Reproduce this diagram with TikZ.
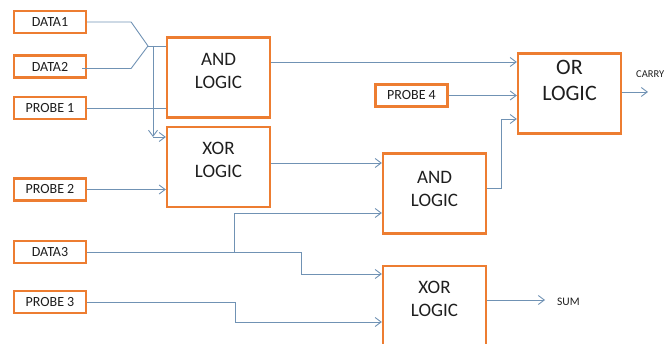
\documentclass[tikz,border=0pt]{standalone}
\usepackage{fontspec}
\setmainfont{Carlito}
\usepackage{tikz}
\usetikzlibrary{arrows.meta}
\definecolor{boxorange}{RGB}{237,125,49}
\definecolor{wireblue}{RGB}{112,146,180}
\definecolor{txt}{RGB}{30,30,30}

\begin{document}
\begin{tikzpicture}[x=1pt, y=-1pt,
   inp/.style = {draw=boxorange, line width=2.2pt, fill=white,
                 minimum width=72pt, minimum height=22pt, inner sep=0pt,
                 text=txt, font=\fontsize{14}{14}\selectfont},
  gate/.style = {draw=boxorange, line width=2.2pt,
                 minimum width=103pt, minimum height=80pt, inner sep=0pt},
  gtxt/.style = {align=center, text=txt, yshift=7pt,
                 font=\fontsize{19}{23}\selectfont},
  otxt/.style = {gtxt, yshift=6pt, font=\fontsize{22}{26}\selectfont},
  wire/.style = {draw=wireblue, line width=0.9pt},
   arr/.style = {wire, -{Straight Barb[length=6pt, width=9pt]}},
  outl/.style = {anchor=west, text=txt, inner sep=0pt}
                    ]
\useasboundingbox (0,0) rectangle (670,344);

\node (d1) [inp] at (50,22)    {DATA1};
\node (d2) [inp] at (50,66.5)  {DATA2};
\node (p1) [inp] at (50,108)   {PROBE 1};
\node (p2) [inp] at (50,189.5) {PROBE 2};
\node (d3) [inp] at (50,252)   {DATA3};
\node (p3) [inp] at (50,302)   {PROBE 3};
\node (p4) [inp] at (411.5,95.5) {PROBE 4};

\node (and1) [gate, label={[gtxt]center:AND\\LOGIC}] at (218.5,77.5) {};
\node (xor1) [gate, label={[gtxt]center:XOR\\LOGIC}] at (218.5,167)  {};
\node (and2) [gate, label={[gtxt,yshift=-2pt]center:AND\\LOGIC}] at (434.5,193.5) {};
\node (xor2) [gate, label={[gtxt]center:XOR\\LOGIC}] at (434.5,306)  {};
\node (or)   [gate, label={[otxt]center:OR\\LOGIC}]  at (569.5,93.5) {};

\node (carry) [outl, font=\fontsize{10.5}{10.5}\selectfont] at (636,74) {CARRY};
\node (sum)   [outl, font=\fontsize{11.5}{11.5}\selectfont] at (557,302) {SUM};

\coordinate (mrg)  at (148,46);
\coordinate (tap)  at (153,46);
\coordinate (drop) at (153,137);
\coordinate (br)   at (234,252);
\coordinate (cout) at (648,92);
\coordinate (sout) at (545,300);

\draw[wire] (d1.east) -- ++(44,0) -- (mrg);
\draw[wire] ([xshift=-5pt,yshift=-2pt]d2.east) -- ++(49,0) -- (mrg);
\draw[wire] (mrg) -- (mrg -| and1.west);
\draw[arr]  (tap) -- (drop);
\draw[arr]  (drop) -- (drop -| xor1.west);
\draw[wire] (p1.east) -- (p1.east -| and1.west);
\draw[arr]  (p2.east) -- (p2.east -| xor1.west);

\draw[arr] ([yshift=15.5pt]and1.east) -- ([yshift=15.5pt]and1.east -| or.west);
\draw[arr] (p4.east) -- (p4.east -| or.west);
\draw[arr] ([yshift=4pt]xor1.east) -- ([yshift=4pt]xor1.east -| and2.west);
\draw[arr] ([yshift=5.5pt]and2.east) -- ++(14,0) |- ([yshift=-25.5pt]or.west);

\draw[arr] (br) |- ([yshift=-19.5pt]and2.west);
\draw[arr] (d3.east) -- ++(214,0) |- ([yshift=32pt]xor2.west);
\draw[arr] (p3.east) -- ++(148,0) |- ([yshift=-16pt]xor2.west);

\draw[arr] (or.east |- cout) -- (cout);
\draw[arr] (xor2.east |- sout) -- (sout);
\end{tikzpicture}
\end{document}
